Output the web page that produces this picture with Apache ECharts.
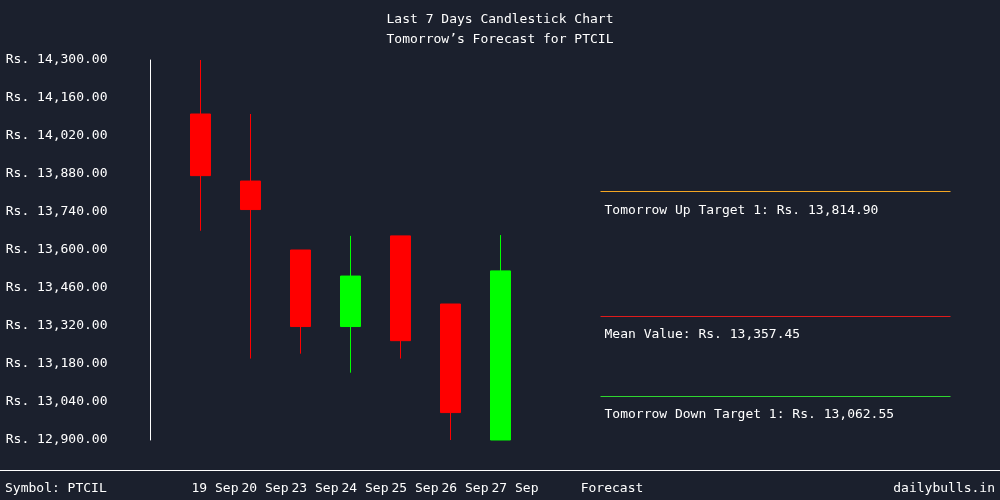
<!DOCTYPE html>
<html>
<head>
<meta charset="utf-8">
<script src="https://cdn.jsdelivr.net/npm/echarts@6/dist/echarts.min.js"></script>
<style>
html,body{margin:0;padding:0;background:#1b202d;}
#chart{width:1000px;height:500px;}
</style>
</head>
<body>
<div id="chart"></div>
<script>
// ---- data ----
const dates = ['19 Sep', '20 Sep', '23 Sep', '24 Sep', '25 Sep', '26 Sep', '27 Sep'];
const opens  = [14101, 13854, 13600, 13318, 13652, 13401, 12900];
const closes = [13874, 13749, 13318, 13504, 13266, 13001, 13523];
const lows   = [13671, 13200, 13218, 13148, 13200, 12900, 12900];
const highs  = [14300, 14101, 13600, 13652, 13652, 13401, 13655];
const yTicks = [12900, 13040, 13180, 13320, 13460, 13600, 13740, 13880, 14020, 14160, 14300];
const forecastNames  = ['Tomorrow Up Target 1', 'Mean Value', 'Tomorrow Down Target 1'];
const forecastValues = [13814.90, 13357.45, 13062.55];
const forecastColors = ['#f5a623', '#e01b1b', '#2fd62f'];
const symbol = 'PTCIL';

// ---- build ----
const FONT = 'DejaVu Sans Mono';
const fmt = v => 'Rs. ' + Number(v).toLocaleString('en-US', {minimumFractionDigits: 2, maximumFractionDigits: 2});
const nCats = 17;
const cats = [];
const candleData = [];
for (let i = 0; i < nCats; i++) {
  if (i >= 1 && i <= dates.length) {
    const k = i - 1;
    cats.push({value: dates[k]});
    candleData.push([opens[k], closes[k], lows[k], highs[k]]);
  } else if (i === 9) {
    cats.push({value: 'Forecast', textStyle: {padding: [0, 0, 0, 23]}});
    candleData.push(['-', '-', '-', '-']);
  } else {
    cats.push({value: ''});
    candleData.push(['-', '-', '-', '-']);
  }
}
const markData = forecastValues.map((v, i) => [
  {coord: [9, v], lineStyle: {color: forecastColors[i], width: 1, type: 'solid'},
   label: {formatter: forecastNames[i] + ': ' + fmt(v)}},
  {coord: [16, v]}
]);

const chart = echarts.init(document.getElementById('chart'));
chart.setOption({
  backgroundColor: '#1b202d',
  animation: false,
  title: [
    {text: 'Last 7 Days Candlestick Chart\nTomorrow\u2019s Forecast for ' + symbol, left: 'center', top: 5,
     textStyle: {color: '#ffffff', fontSize: 13, fontWeight: 'normal', fontFamily: FONT, lineHeight: 20, align: 'center'}},
    {text: 'Symbol: ' + symbol, left: 0, top: 482, padding: [0, 0, 0, 5],
     textStyle: {color: '#ffffff', fontSize: 13, fontWeight: 'normal', fontFamily: FONT}},
    {text: 'dailybulls.in', right: 5, top: 482, padding: 0,
     textStyle: {color: '#ffffff', fontSize: 13, fontWeight: 'normal', fontFamily: FONT}}
  ],
  graphic: [{type: 'line', shape: {x1: 0, y1: 470.5, x2: 1000, y2: 470.5}, style: {stroke: '#ffffff', lineWidth: 1}}],
  grid: {left: 150.5, right: 49.5, top: 60, bottom: 60},
  xAxis: {
    type: 'category', data: cats, boundaryGap: false,
    axisLine: {show: false}, axisTick: {show: false}, splitLine: {show: false},
    axisLabel: {interval: 0, margin: 42, color: '#ffffff', fontSize: 13, fontFamily: FONT,
                align: 'center', padding: [0, 0, 0, 29]}
  },
  yAxis: {
    type: 'value', min: 12900, max: 14300, scale: true,
    axisLine: {show: true, lineStyle: {color: '#ffffff', width: 1}},
    axisTick: {show: false}, splitLine: {show: false},
    axisLabel: {customValues: yTicks, color: '#ffffff', fontSize: 13, fontFamily: FONT, margin: 43,
                formatter: v => fmt(v), padding: [0, 0, 4, 0]}
  },
  series: [{
    type: 'candlestick', data: candleData, barWidth: 20,
    itemStyle: {color: '#00ff00', color0: '#ff0000', borderColor: '#00ff00', borderColor0: '#ff0000', borderWidth: 1},
    markLine: {
      symbol: ['none', 'none'], silent: true, animation: false,
      label: {show: true, position: 'insideStartBottom', color: '#ffffff', fontSize: 13, fontFamily: FONT,
              distance: [4, 12]},
      emphasis: {disabled: true},
      data: markData
    }
  }]
});
</script>
</body>
</html>
